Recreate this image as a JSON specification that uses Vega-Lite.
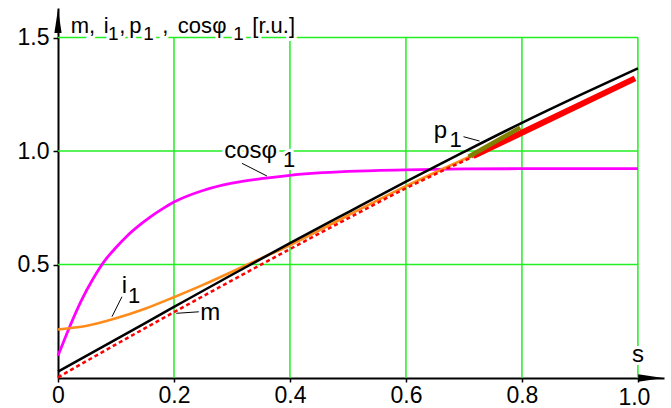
{
  "$schema": "https://vega.github.io/schema/vega-lite/v6.json",
  "width": 606,
  "height": 370,
  "autosize": "none",
  "padding": {"left": 58, "top": 8, "right": 7, "bottom": 30},
  "background": "white",
  "config": {"view": {"stroke": null}, "font": "Liberation Sans"},
  "datasets": {
    "grid": [
      {"s": 0.2, "s2": 0.2, "v": 0, "v2": 1.5},
      {"s": 0.4, "s2": 0.4, "v": 0, "v2": 1.5},
      {"s": 0.6, "s2": 0.6, "v": 0, "v2": 1.5},
      {"s": 0.8, "s2": 0.8, "v": 0, "v2": 1.5},
      {"s": 1.0, "s2": 1.0, "v": 0, "v2": 1.5},
      {"s": 0, "s2": 1.0, "v": 0.5, "v2": 0.5},
      {"s": 0, "s2": 1.0, "v": 1.0, "v2": 1.0},
      {"s": 0, "s2": 1.0, "v": 1.5, "v2": 1.5}
    ],
    "curves": [
      {"series": "cos", "s": 0, "v": 0.098},
      {"series": "cos", "s": 0.02, "v": 0.225},
      {"series": "cos", "s": 0.04, "v": 0.34},
      {"series": "cos", "s": 0.06, "v": 0.435},
      {"series": "cos", "s": 0.08, "v": 0.515},
      {"series": "cos", "s": 0.1, "v": 0.575},
      {"series": "cos", "s": 0.12, "v": 0.628},
      {"series": "cos", "s": 0.14, "v": 0.672},
      {"series": "cos", "s": 0.16, "v": 0.711},
      {"series": "cos", "s": 0.18, "v": 0.745},
      {"series": "cos", "s": 0.2, "v": 0.775},
      {"series": "cos", "s": 0.25, "v": 0.826},
      {"series": "cos", "s": 0.3, "v": 0.858},
      {"series": "cos", "s": 0.35, "v": 0.878},
      {"series": "cos", "s": 0.4, "v": 0.893},
      {"series": "cos", "s": 0.5, "v": 0.91},
      {"series": "cos", "s": 0.6, "v": 0.917},
      {"series": "cos", "s": 0.7, "v": 0.921},
      {"series": "cos", "s": 0.8, "v": 0.922},
      {"series": "cos", "s": 0.9, "v": 0.922},
      {"series": "cos", "s": 1.0, "v": 0.922},
      {"series": "i1", "s": 0, "v": 0.214},
      {"series": "i1", "s": 0.05, "v": 0.23},
      {"series": "i1", "s": 0.1, "v": 0.263},
      {"series": "i1", "s": 0.15, "v": 0.305},
      {"series": "i1", "s": 0.2, "v": 0.356},
      {"series": "i1", "s": 0.25, "v": 0.41},
      {"series": "i1", "s": 0.3, "v": 0.468},
      {"series": "i1", "s": 0.35, "v": 0.527},
      {"series": "i1", "s": 0.4, "v": 0.585},
      {"series": "i1", "s": 0.5, "v": 0.716},
      {"series": "i1", "s": 0.6, "v": 0.845},
      {"series": "i1", "s": 0.71, "v": 0.975},
      {"series": "mdash", "s": 0, "v": 0.003},
      {"series": "mdash", "s": 0.1, "v": 0.148},
      {"series": "mdash", "s": 0.2, "v": 0.29},
      {"series": "mdash", "s": 0.3, "v": 0.43},
      {"series": "mdash", "s": 0.4, "v": 0.568},
      {"series": "mdash", "s": 0.5, "v": 0.703},
      {"series": "mdash", "s": 0.6, "v": 0.836},
      {"series": "mdash", "s": 0.716, "v": 0.975},
      {"series": "m", "s": 0, "v": 0.028},
      {"series": "m", "s": 0.1, "v": 0.17},
      {"series": "m", "s": 0.2, "v": 0.313},
      {"series": "m", "s": 0.3, "v": 0.455},
      {"series": "m", "s": 0.4, "v": 0.594},
      {"series": "m", "s": 0.5, "v": 0.73},
      {"series": "m", "s": 0.6, "v": 0.865},
      {"series": "m", "s": 0.7, "v": 0.996},
      {"series": "m", "s": 0.8, "v": 1.124},
      {"series": "m", "s": 0.9, "v": 1.246},
      {"series": "m", "s": 1.0, "v": 1.364},
      {"series": "red", "s": 0.716, "v": 0.978},
      {"series": "red", "s": 0.85, "v": 1.142},
      {"series": "red", "s": 0.995, "v": 1.32},
      {"series": "p1", "s": 0.708, "v": 0.975},
      {"series": "p1", "s": 0.797, "v": 1.103}
    ],
    "leaders": [
      {"s": 0.3172, "s2": 0.3603, "v": 0.9458, "v2": 0.8899},
      {"s": 0.1103, "s2": 0.0931, "v": 0.358, "v2": 0.27},
      {"s": 0.2453, "s2": 0.204, "v": 0.292, "v2": 0.285},
      {"s": 0.6993, "s2": 0.7269, "v": 1.063, "v2": 1.044}
    ],
    "labels": [
      {"kind": "title", "s": 0.0219, "v": 1.5185, "t": "m,"},
      {"kind": "title", "s": 0.079, "v": 1.5185, "t": "i"},
      {"kind": "title", "s": 0.1055, "v": 1.5185, "t": ","},
      {"kind": "title", "s": 0.1229, "v": 1.5185, "t": "p"},
      {"kind": "title", "s": 0.1798, "v": 1.5185, "t": ","},
      {"kind": "title", "s": 0.2066, "v": 1.5185, "t": "cos"},
      {"kind": "title", "s": 0.266, "v": 1.5185, "t": "φ"},
      {"kind": "title", "s": 0.335, "v": 1.5185, "t": "[r.u.]"},
      {"kind": "titlesub", "s": 0.0862, "v": 1.489, "t": "1"},
      {"kind": "titlesub", "s": 0.147, "v": 1.489, "t": "1"},
      {"kind": "titlesub", "s": 0.3022, "v": 1.489, "t": "1"},
      {"kind": "label", "s": 0.2867, "v": 0.968, "t": "cosφ"},
      {"kind": "label", "s": 0.1098, "v": 0.373, "t": "i"},
      {"kind": "label", "s": 0.2455, "v": 0.2555, "t": "m"},
      {"kind": "label", "s": 0.648, "v": 1.056, "t": "p"},
      {"kind": "label", "s": 0.99, "v": 0.072, "t": "s"},
      {"kind": "labelsub", "s": 0.3878, "v": 0.931, "t": "1"},
      {"kind": "labelsub", "s": 0.1205, "v": 0.33, "t": "1"},
      {"kind": "labelsub", "s": 0.675, "v": 1.019, "t": "1"}
    ],
    "arrows": [
      {"dir": "up", "s": 0, "v": 1.573},
      {"dir": "right", "s": 1.022, "v": 0}
    ]
  },
  "layer": [
    {
      "data": {"name": "grid"},
      "mark": {"type": "rule", "color": "#22ee22", "strokeWidth": 1.5},
      "encoding": {
        "x": {
          "field": "s", "type": "quantitative", "title": null,
          "scale": {"domain": [0, 1.045], "nice": false, "zero": false},
          "axis": {
            "values": [0, 0.2, 0.4, 0.6, 0.8, 1.0],
            "labelExpr": "datum.value == 0 ? '0' : format(datum.value, '.1f')",
            "labelFont": "Liberation Sans", "labelFontSize": 23, "labelColor": "black",
            "domainColor": "black", "domainWidth": 2,
            "tickColor": "black", "tickSize": 4, "tickWidth": 1.5,
            "labelPadding": {"condition": {"test": "datum.value == 1", "value": 4}, "value": 2},
            "labelOffset": {"condition": {"test": "datum.value == 1", "value": -4}, "value": 0},
            "labelFlush": false, "labelOverlap": false, "grid": false, "title": null
          }
        },
        "x2": {"field": "s2"},
        "y": {
          "field": "v", "type": "quantitative", "title": null,
          "scale": {"domain": [0, 1.63], "nice": false, "zero": false},
          "axis": {
            "values": [0.5, 1.0, 1.5], "format": ".1f",
            "labelFont": "Liberation Sans", "labelFontSize": 23, "labelColor": "black",
            "domainColor": "black", "domainWidth": 2,
            "tickColor": "black", "tickSize": 5, "tickWidth": 1.5,
            "labelPadding": 4, "labelFlush": false, "labelOverlap": false, "grid": false, "title": null
          }
        },
        "y2": {"field": "v2"}
      }
    },
    {
      "data": {"name": "curves"},
      "transform": [{"filter": "datum.series == 'cos'"}],
      "mark": {"type": "line", "color": "#ff00ff", "strokeWidth": 2.8, "interpolate": "monotone"},
      "encoding": {
        "x": {"field": "s", "type": "quantitative", "title": null},
        "y": {"field": "v", "type": "quantitative", "title": null}
      }
    },
    {
      "data": {"name": "curves"},
      "transform": [{"filter": "datum.series == 'i1'"}],
      "mark": {"type": "line", "color": "#ff8c1a", "strokeWidth": 2.6, "interpolate": "monotone"},
      "encoding": {
        "x": {"field": "s", "type": "quantitative", "title": null},
        "y": {"field": "v", "type": "quantitative", "title": null}
      }
    },
    {
      "data": {"name": "curves"},
      "transform": [{"filter": "datum.series == 'mdash'"}],
      "mark": {"type": "line", "color": "#ff0000", "strokeWidth": 2.5, "strokeDash": [4, 3], "interpolate": "monotone"},
      "encoding": {
        "x": {"field": "s", "type": "quantitative", "title": null},
        "y": {"field": "v", "type": "quantitative", "title": null}
      }
    },
    {
      "data": {"name": "curves"},
      "transform": [{"filter": "datum.series == 'm'"}],
      "mark": {"type": "line", "color": "#000000", "strokeWidth": 2.5, "interpolate": "monotone"},
      "encoding": {
        "x": {"field": "s", "type": "quantitative", "title": null},
        "y": {"field": "v", "type": "quantitative", "title": null}
      }
    },
    {
      "data": {"name": "curves"},
      "transform": [{"filter": "datum.series == 'red'"}],
      "mark": {"type": "line", "color": "#ff0000", "strokeWidth": 6, "interpolate": "monotone"},
      "encoding": {
        "x": {"field": "s", "type": "quantitative", "title": null},
        "y": {"field": "v", "type": "quantitative", "title": null}
      }
    },
    {
      "data": {"name": "curves"},
      "transform": [{"filter": "datum.series == 'p1'"}],
      "mark": {"type": "line", "color": "#808000", "strokeWidth": 4.5},
      "encoding": {
        "x": {"field": "s", "type": "quantitative", "title": null},
        "y": {"field": "v", "type": "quantitative", "title": null}
      }
    },
    {
      "data": {"name": "leaders"},
      "mark": {"type": "rule", "color": "black", "strokeWidth": 1},
      "encoding": {
        "x": {"field": "s", "type": "quantitative", "title": null},
        "x2": {"field": "s2"},
        "y": {"field": "v", "type": "quantitative", "title": null},
        "y2": {"field": "v2"}
      }
    },
    {
      "data": {"name": "labels"},
      "transform": [{"filter": "datum.kind == 'title'"}],
      "mark": {"type": "text", "align": "left", "baseline": "alphabetic", "fontSize": 22, "font": "Liberation Sans", "color": "white", "stroke": "white", "strokeWidth": 6},
      "encoding": {
        "x": {"field": "s", "type": "quantitative", "title": null},
        "y": {"field": "v", "type": "quantitative", "title": null},
        "text": {"field": "t"}
      }
    },
    {
      "data": {"name": "labels"},
      "transform": [{"filter": "datum.kind == 'titlesub'"}],
      "mark": {"type": "text", "align": "left", "baseline": "alphabetic", "fontSize": 19, "font": "Liberation Sans", "color": "white", "stroke": "white", "strokeWidth": 6},
      "encoding": {
        "x": {"field": "s", "type": "quantitative", "title": null},
        "y": {"field": "v", "type": "quantitative", "title": null},
        "text": {"field": "t"}
      }
    },
    {
      "data": {"name": "labels"},
      "transform": [{"filter": "datum.kind == 'label'"}],
      "mark": {"type": "text", "align": "left", "baseline": "alphabetic", "fontSize": 24, "font": "Liberation Sans", "color": "white", "stroke": "white", "strokeWidth": 6},
      "encoding": {
        "x": {"field": "s", "type": "quantitative", "title": null},
        "y": {"field": "v", "type": "quantitative", "title": null},
        "text": {"field": "t"}
      }
    },
    {
      "data": {"name": "labels"},
      "transform": [{"filter": "datum.kind == 'labelsub'"}],
      "mark": {"type": "text", "align": "left", "baseline": "alphabetic", "fontSize": 22, "font": "Liberation Sans", "color": "white", "stroke": "white", "strokeWidth": 6},
      "encoding": {
        "x": {"field": "s", "type": "quantitative", "title": null},
        "y": {"field": "v", "type": "quantitative", "title": null},
        "text": {"field": "t"}
      }
    },
    {
      "data": {"name": "labels"},
      "transform": [{"filter": "datum.kind == 'title'"}],
      "mark": {"type": "text", "align": "left", "baseline": "alphabetic", "fontSize": 22, "font": "Liberation Sans", "color": "black"},
      "encoding": {
        "x": {"field": "s", "type": "quantitative", "title": null},
        "y": {"field": "v", "type": "quantitative", "title": null},
        "text": {"field": "t"}
      }
    },
    {
      "data": {"name": "labels"},
      "transform": [{"filter": "datum.kind == 'titlesub'"}],
      "mark": {"type": "text", "align": "left", "baseline": "alphabetic", "fontSize": 19, "font": "Liberation Sans", "color": "black"},
      "encoding": {
        "x": {"field": "s", "type": "quantitative", "title": null},
        "y": {"field": "v", "type": "quantitative", "title": null},
        "text": {"field": "t"}
      }
    },
    {
      "data": {"name": "labels"},
      "transform": [{"filter": "datum.kind == 'label'"}],
      "mark": {"type": "text", "align": "left", "baseline": "alphabetic", "fontSize": 24, "font": "Liberation Sans", "color": "black"},
      "encoding": {
        "x": {"field": "s", "type": "quantitative", "title": null},
        "y": {"field": "v", "type": "quantitative", "title": null},
        "text": {"field": "t"}
      }
    },
    {
      "data": {"name": "labels"},
      "transform": [{"filter": "datum.kind == 'labelsub'"}],
      "mark": {"type": "text", "align": "left", "baseline": "alphabetic", "fontSize": 22, "font": "Liberation Sans", "color": "black"},
      "encoding": {
        "x": {"field": "s", "type": "quantitative", "title": null},
        "y": {"field": "v", "type": "quantitative", "title": null},
        "text": {"field": "t"}
      }
    },
    {
      "data": {"name": "arrows"},
      "transform": [{"filter": "datum.dir == 'up'"}],
      "mark": {"type": "point", "filled": true, "color": "black", "opacity": 1, "size": 576, "shape": "M0,-1L0.3,1L-0.3,1Z"},
      "encoding": {
        "x": {"field": "s", "type": "quantitative", "title": null},
        "y": {"field": "v", "type": "quantitative", "title": null}
      }
    },
    {
      "data": {"name": "arrows"},
      "transform": [{"filter": "datum.dir == 'right'"}],
      "mark": {"type": "point", "filled": true, "color": "black", "opacity": 1, "size": 625, "shape": "M1,0L-1,-0.3L-1,0.3Z"},
      "encoding": {
        "x": {"field": "s", "type": "quantitative", "title": null},
        "y": {"field": "v", "type": "quantitative", "title": null}
      }
    }
  ]
}
